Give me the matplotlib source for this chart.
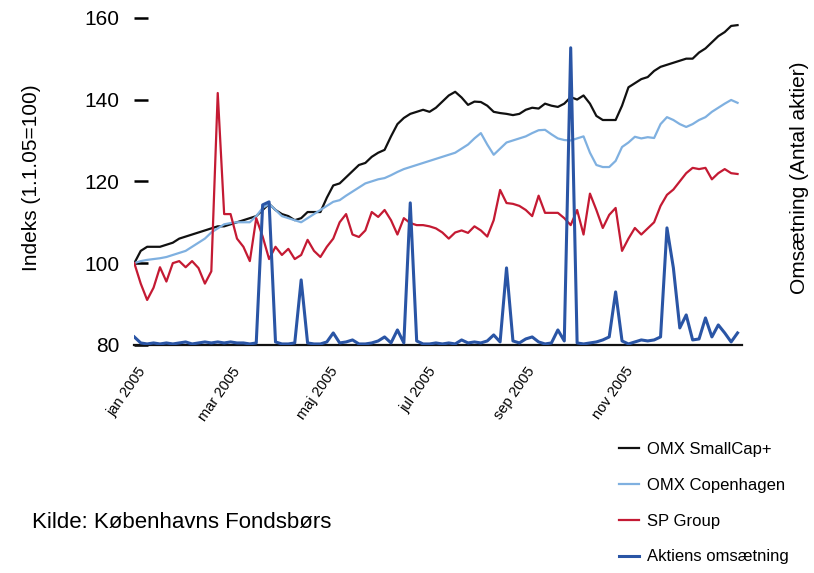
import pandas as pd
import matplotlib
matplotlib.use("Agg")
import matplotlib.pyplot as plt
import matplotlib.transforms as mtransforms

plt.rcParams['font.family'] = ['Liberation Sans', 'DejaVu Sans']

# observations every 4 days from 1 Jan 2005
dates = pd.date_range('2005-01-01', periods=95, freq='4D')

smallcap = [100, 103, 104, 104, 104, 104.5, 105, 106, 106.5, 107,
            107.5, 108, 108.5, 109, 109, 109.5, 110, 110.5, 111, 111.5,
            113, 114.5, 113, 112, 111.5, 110.5, 111, 112.5, 112.5, 112.5,
            116, 119, 119.5, 121, 122.5, 124, 124.5, 126, 127, 127.7,
            131, 134, 135.5, 136.5, 137, 137.5, 137, 138, 139.5, 141,
            141.9, 140.5, 138.7, 139.5, 139.4, 138.5, 137, 136.7, 136.5, 136.2,
            136.5, 137.5, 138, 137.8, 139, 138.5, 138.2, 139, 140.6, 140,
            141, 139, 136, 135, 135, 135, 138.5, 143, 144, 145,
            145.5, 147, 148, 148.5, 149, 149.5, 150, 150, 151.5, 152.5,
            154, 155.5, 156.5, 158, 158.2]

omx_cph = [100, 100.5, 100.8, 101, 101.2, 101.5, 102, 102.5, 103, 104,
           105, 106, 107.5, 108.5, 109.5, 109.8, 110, 110, 110, 111.5,
           113.5, 114.5, 113, 111.5, 111, 110.5, 110, 111, 112, 113,
           114, 115, 115.4, 116.5, 117.5, 118.5, 119.5, 120, 120.5, 120.8,
           121.5, 122.3, 123, 123.5, 124, 124.5, 125, 125.5, 126, 126.5,
           127, 128, 129, 130.5, 131.8, 129, 126.5, 128, 129.5, 130,
           130.5, 131, 131.8, 132.5, 132.6, 131.5, 130.5, 130.1, 130, 130.5,
           131, 127, 124, 123.5, 123.5, 125, 128.4, 129.5, 130.9, 130.5,
           130.8, 130.6, 134, 135.7, 135, 134, 133.3, 134, 135, 135.7,
           137, 138, 139, 139.9, 139.2]

sp_group = [100, 95, 91, 94, 99, 95.5, 100, 100.5, 99, 100.5,
            98.8, 95, 98, 141.6, 112, 112, 106, 104, 100.5, 111,
            106.5, 101, 104, 102, 103.5, 101, 102, 105.7, 103, 101.5,
            104, 106, 110, 112, 107, 106.4, 108, 112.5, 111.3, 113,
            110.5, 107, 111, 109.8, 109.3, 109.3, 109, 108.5, 107.5, 106,
            107.5, 108, 107.4, 109, 108, 106.5, 110.5, 117.9, 114.7, 114.5,
            114, 113, 111.5, 116.5, 112.3, 112.3, 112.3, 111, 109.3, 113,
            107, 117, 113, 108.6, 111.8, 113.5, 103, 106, 108.6, 107,
            108.5, 110, 114, 116.7, 118, 120, 122, 123.3, 123, 123.3,
            120.5, 122, 123, 122, 121.8]

# turnover, 1000 shares
volume = [24, 6, 3, 6, 3, 6, 3, 6, 9, 3,
          6, 9, 6, 9, 6, 9, 6, 6, 3, 6,
          420, 429, 9, 3, 3, 6, 195, 6, 3, 3,
          9, 36, 6, 9, 15, 3, 3, 6, 12, 24,
          6, 45, 6, 426, 12, 3, 3, 6, 3, 6,
          3, 15, 6, 9, 6, 12, 30, 9, 231, 12,
          6, 18, 24, 9, 3, 6, 45, 12, 891, 6,
          3, 6, 9, 15, 24, 159, 12, 3, 9, 15,
          12, 15, 24, 351, 231, 51, 90, 15, 18, 81,
          24, 60, 36, 9, 36]

tick_dates = pd.to_datetime(['2005-01-01', '2005-03-01', '2005-05-01',
                             '2005-07-01', '2005-09-01', '2005-11-01'])
tick_labels = ['jan 2005', 'mar 2005', 'maj 2005', 'jul 2005', 'sep 2005', 'nov 2005']

fig = plt.figure(figsize=(8.14, 5.73), dpi=100)
ax = fig.add_axes([0.165, 0.398, 0.747, 0.571])

ax.plot(dates, smallcap, color='#111111', lw=1.6, label='OMX SmallCap+')
ax.plot(dates, omx_cph, color='#7fb0e0', lw=1.6, label='OMX Copenhagen')
ax.plot(dates, sp_group, color='#c41a33', lw=1.6, label='SP Group')

ax.set_ylim(80, 160)
ax.set_yticks([80, 100, 120, 140, 160])
ax.set_xlim(dates[0], dates[-1] + pd.Timedelta(days=3))
ax.set_xticks(tick_dates)
ax.set_xticklabels(tick_labels, rotation=55, ha='right', va='top', fontsize=10.5)
ax.tick_params(axis='x', length=0, pad=14)
ax.tick_params(axis='y', direction='in', length=10, width=1.8, labelsize=15, pad=11)

for s in ['top', 'right', 'left']:
    ax.spines[s].set_visible(False)
ax.spines['bottom'].set_color('#111111')
ax.spines['bottom'].set_linewidth(1.6)

ax2 = ax.twinx()
ax2.plot(dates, volume, color='#2a55a5', lw=2.2, label='Aktiens omsætning')
ax2.set_ylim(0, 981)
ax2.set_yticks([])
for s in ax2.spines.values():
    s.set_visible(False)

fig.text(0.039, 0.69, 'Indeks (1.1.05=100)', rotation=90, ha='center', va='center', fontsize=15)
fig.text(0.982, 0.69, 'Omsætning (Antal aktier)', rotation=90, ha='center', va='center', fontsize=15)
fig.text(0.039, 0.089, 'Kilde: Københavns Fondsbørs', ha='left', va='center', fontsize=16)

handles = ax.get_lines() + ax2.get_lines()
leg = fig.legend(handles, [h.get_label() for h in handles], loc='upper left',
                 bbox_to_anchor=(0.742, 0.255), frameon=False, fontsize=12,
                 handlelength=1.2, handletextpad=0.5, labelspacing=1.25)

# nudge the rotated month labels right, as in the original
fig.canvas.draw()
shift = mtransforms.ScaledTranslation(0.14, 0, fig.dpi_scale_trans)
for lab in ax.get_xticklabels():
    lab.set_transform(lab.get_transform() + shift)

fig.savefig('out.png', dpi=100)
